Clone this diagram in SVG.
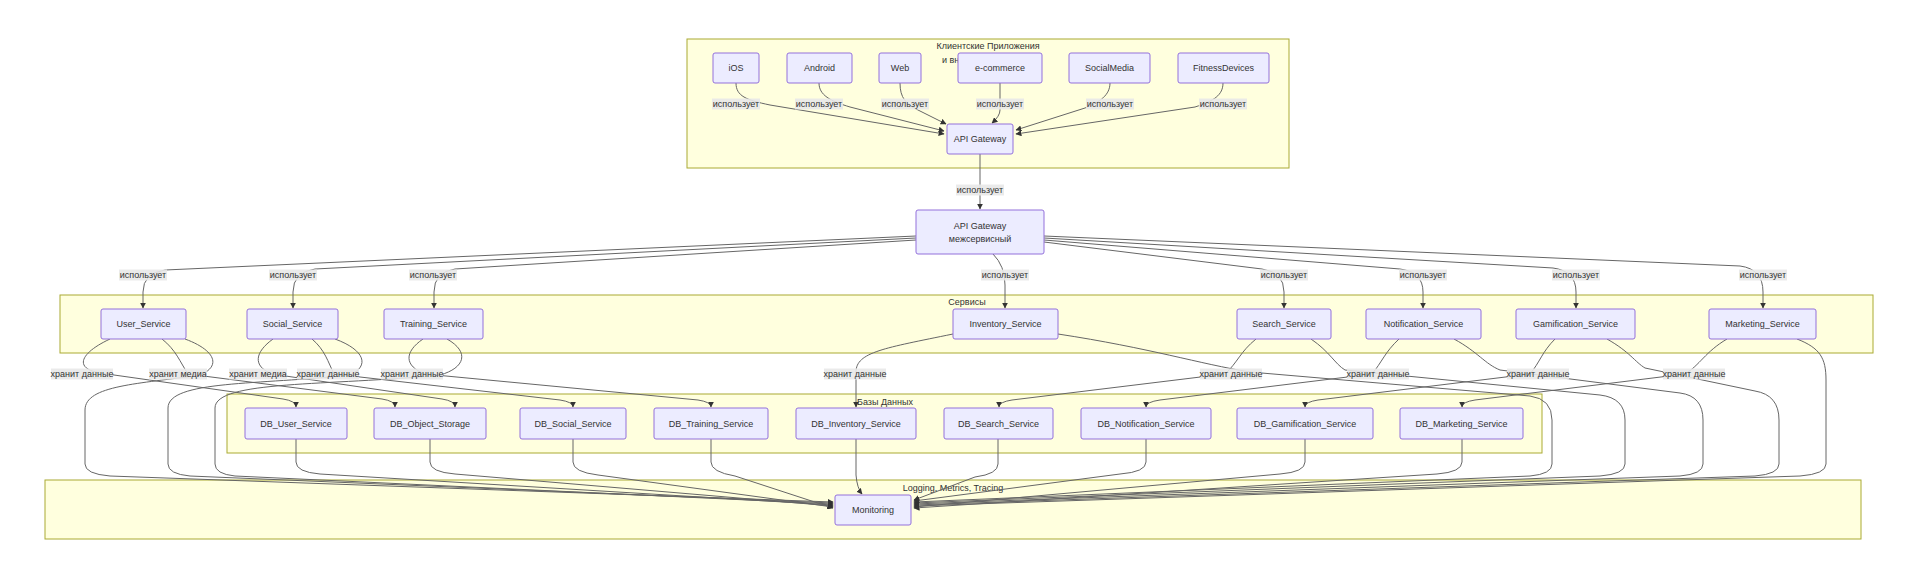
<svg xmlns="http://www.w3.org/2000/svg" width="1910" height="580" viewBox="0 0 1910 580">
<defs>
<marker id="arr" viewBox="0 0 10 10" refX="9" refY="5" markerUnits="userSpaceOnUse" markerWidth="6" markerHeight="6" orient="auto">
<path d="M0,0 L10,5 L0,10 z" fill="#333"/>
</marker>
<style>
.cl{fill:#ffffde;stroke:#aaaa33;stroke-width:1}
.nd rect{fill:#ECECFF;stroke:#9370DB;stroke-width:1}
text{font-family:"Liberation Sans",Arial,sans-serif;font-size:9px;fill:#333}
.nd text,.lb text{text-anchor:middle;dominant-baseline:central}
.ct{text-anchor:middle;dominant-baseline:central}
#edges path{fill:none;stroke:#666;stroke-width:1;marker-end:url(#arr)}
.lb rect{fill:#e8e8e8;opacity:0.9}
</style>
</defs>
<rect width="1910" height="580" fill="#ffffff"/>
<g id="clusters">
<g id="cl-clients"><rect class="cl" x="687" y="39" width="602" height="129"/><text class="ct" x="988" y="46">Клиентские Приложения</text><text x="942" y="63">и вн</text></g>
<g id="cl-services"><rect class="cl" x="60" y="295" width="1813" height="58"/><text class="ct" x="967" y="302">Сервисы</text></g>
<g id="cl-db"><rect class="cl" x="227" y="394" width="1315" height="59"/><text class="ct" x="885" y="402">Базы Данных</text></g>
<g id="cl-mon"><rect class="cl" x="45" y="480" width="1816" height="59"/><text class="ct" x="953" y="488">Logging, Metrics, Tracing</text></g>
</g>
<g id="edges">
<path d="M736,83 C736,96 746,100 770,105 L944,134"/>
<path d="M819,83 C819,95 830,101 850,107 L944,131"/>
<path d="M900,83 C900,98 906,104 918,110 L946,124"/>
<path d="M1000,83 L1000,110 Q1000,116 992,123"/>
<path d="M1110,83 C1110,95 1100,102 1085,108 L1016,130"/>
<path d="M1223,83 C1223,95 1214,101 1195,107 L1016,134"/>
<path d="M980,154 L980,209"/>
<path d="M916,236 L165,270 Q143,273 143,292 L143,308"/>
<path d="M916,238 L315,269 Q293,272 293,292 L293,308"/>
<path d="M916,240 L455,269 Q434,272 434,292 L434,308"/>
<path d="M993,254 Q1005,266 1005,285 L1005,308"/>
<path d="M1044,242 L1262,269 Q1284,272 1284,292 L1284,308"/>
<path d="M1044,240 L1400,269 Q1423,272 1423,292 L1423,308"/>
<path d="M1044,238 L1553,268 Q1576,271 1576,292 L1576,308"/>
<path d="M1044,236 L1740,266 Q1763,269 1763,292 L1763,308"/>
<path d="M110,339 C82,352 72,368 100,373 L283,399 Q296,401 296,407"/>
<path d="M162,339 C176,350 180,362 188,374 L382,399 Q395,401 395,407"/>
<path d="M273,339 C255,352 252,366 272,374 L442,399 Q455,401 455,407"/>
<path d="M312,339 C325,350 328,362 334,374 L560,400 Q573,402 573,407"/>
<path d="M423,339 C404,352 404,366 425,374 L698,400 Q711,402 711,407"/>
<path d="M953,334 C885,348 856,352 856,372 L856,407"/>
<path d="M1256,339 C1240,352 1238,362 1225,374 L1012,400 Q999,402 999,407"/>
<path d="M1399,339 C1385,352 1382,362 1372,374 L1160,400 Q1146,402 1146,407"/>
<path d="M1555,339 C1542,352 1540,362 1530,374 L1318,400 Q1305,402 1305,407"/>
<path d="M1727,339 C1705,352 1700,365 1685,374 L1475,400 Q1462,402 1462,407"/>
<path d="M185,339 C215,350 222,366 200,375 C140,384 85,385 85,410 L85,464 Q85,474 110,476 L833,502"/>
<path d="M335,339 C365,350 370,366 350,375 C260,385 168,380 168,408 L168,464 Q168,474 190,476 L833,503"/>
<path d="M447,339 C470,352 465,368 440,375 C330,386 215,380 215,408 L215,464 Q215,474 235,476 L833,504"/>
<path d="M1058,334 C1150,348 1200,364 1250,372 L1530,396 Q1552,399 1552,420 L1552,464 Q1552,474 1530,476 L914,502"/>
<path d="M1311,339 C1330,352 1335,364 1345,370 L1600,395 Q1625,398 1625,420 L1625,464 Q1625,474 1600,476 L914,503"/>
<path d="M1454,339 C1478,352 1485,364 1500,370 L1680,393 Q1703,396 1703,420 L1703,464 Q1703,474 1680,476 L914,504"/>
<path d="M1607,339 C1630,352 1635,362 1645,368 L1755,391 Q1779,395 1779,420 L1779,464 Q1779,474 1755,476 L914,505"/>
<path d="M1797,339 C1820,348 1826,358 1826,380 L1826,464 Q1826,474 1800,476 L914,506"/>
<path d="M296,439 L296,462 Q296,472 320,474 L833,505"/>
<path d="M430,439 L430,462 Q430,472 455,474 L833,506"/>
<path d="M573,439 L573,462 Q573,472 598,475 L833,507"/>
<path d="M711,439 L711,462 Q711,472 735,476 L833,508"/>
<path d="M856,439 L856,475 Q857,488 862,494"/>
<path d="M998,439 L998,464 Q998,474 975,477 L914,500"/>
<path d="M1146,439 L1146,462 Q1146,472 1120,474 L914,501"/>
<path d="M1305,439 L1305,462 Q1305,472 1280,474 L914,507"/>
<path d="M1462,439 L1462,462 Q1462,472 1437,474 L914,508"/>
</g>
<g id="edge-labels">
<g class="lb"><rect x="712" y="98.5" width="48" height="11"/><text x="736" y="104">использует</text></g>
<g class="lb"><rect x="795" y="98.5" width="48" height="11"/><text x="819" y="104">использует</text></g>
<g class="lb"><rect x="881" y="98.5" width="48" height="11"/><text x="905" y="104">использует</text></g>
<g class="lb"><rect x="976" y="98.5" width="48" height="11"/><text x="1000" y="104">использует</text></g>
<g class="lb"><rect x="1086" y="98.5" width="48" height="11"/><text x="1110" y="104">использует</text></g>
<g class="lb"><rect x="1199" y="98.5" width="48" height="11"/><text x="1223" y="104">использует</text></g>
<g class="lb"><rect x="956" y="184.5" width="48" height="11"/><text x="980" y="190">использует</text></g>
<g class="lb"><rect x="119" y="269.5" width="48" height="11"/><text x="143" y="275">использует</text></g>
<g class="lb"><rect x="269" y="269.5" width="48" height="11"/><text x="293" y="275">использует</text></g>
<g class="lb"><rect x="409" y="269.5" width="48" height="11"/><text x="433" y="275">использует</text></g>
<g class="lb"><rect x="981" y="269.5" width="48" height="11"/><text x="1005" y="275">использует</text></g>
<g class="lb"><rect x="1260" y="269.5" width="48" height="11"/><text x="1284" y="275">использует</text></g>
<g class="lb"><rect x="1399" y="269.5" width="48" height="11"/><text x="1423" y="275">использует</text></g>
<g class="lb"><rect x="1552" y="269.5" width="48" height="11"/><text x="1576" y="275">использует</text></g>
<g class="lb"><rect x="1739" y="269.5" width="48" height="11"/><text x="1763" y="275">использует</text></g>
<g class="lb"><rect x="51" y="368.5" width="62" height="11"/><text x="82" y="374">хранит данные</text></g>
<g class="lb"><rect x="149" y="368.5" width="58" height="11"/><text x="178" y="374">хранит медиа</text></g>
<g class="lb"><rect x="229" y="368.5" width="58" height="11"/><text x="258" y="374">хранит медиа</text></g>
<g class="lb"><rect x="297" y="368.5" width="62" height="11"/><text x="328" y="374">хранит данные</text></g>
<g class="lb"><rect x="381" y="368.5" width="62" height="11"/><text x="412" y="374">хранит данные</text></g>
<g class="lb"><rect x="824" y="368.5" width="62" height="11"/><text x="855" y="374">хранит данные</text></g>
<g class="lb"><rect x="1200" y="368.5" width="62" height="11"/><text x="1231" y="374">хранит данные</text></g>
<g class="lb"><rect x="1347" y="368.5" width="62" height="11"/><text x="1378" y="374">хранит данные</text></g>
<g class="lb"><rect x="1507" y="368.5" width="62" height="11"/><text x="1538" y="374">хранит данные</text></g>
<g class="lb"><rect x="1663" y="368.5" width="62" height="11"/><text x="1694" y="374">хранит данные</text></g>
</g>
<g id="nodes">
<g class="nd" id="n-ios"><rect x="713" y="53" width="46" height="30" rx="2"/><text x="736" y="68">iOS</text></g>
<g class="nd" id="n-android"><rect x="787" y="53" width="65" height="30" rx="2"/><text x="819.5" y="68">Android</text></g>
<g class="nd" id="n-web"><rect x="879" y="53" width="42" height="30" rx="2"/><text x="900" y="68">Web</text></g>
<g class="nd" id="n-ecom"><rect x="958" y="53" width="84" height="30" rx="2"/><text x="1000" y="68">e-commerce</text></g>
<g class="nd" id="n-social"><rect x="1069" y="53" width="81" height="30" rx="2"/><text x="1109.5" y="68">SocialMedia</text></g>
<g class="nd" id="n-fitness"><rect x="1178" y="53" width="91" height="30" rx="2"/><text x="1223.5" y="68">FitnessDevices</text></g>
<g class="nd" id="n-gw"><rect x="947" y="124" width="66" height="30" rx="2"/><text x="980" y="139">API Gateway</text></g>
<g class="nd" id="n-gw2"><rect x="916" y="210" width="128" height="44" rx="2"/><text x="980" y="226">API Gateway</text><text x="980" y="239">межсервисный</text></g>
<g class="nd" id="n-user"><rect x="101" y="309" width="85" height="30" rx="2"/><text x="143.5" y="324">User_Service</text></g>
<g class="nd" id="n-socials"><rect x="247" y="309" width="91" height="30" rx="2"/><text x="292.5" y="324">Social_Service</text></g>
<g class="nd" id="n-training"><rect x="384" y="309" width="99" height="30" rx="2"/><text x="433.5" y="324">Training_Service</text></g>
<g class="nd" id="n-inventory"><rect x="953" y="309" width="105" height="30" rx="2"/><text x="1005.5" y="324">Inventory_Service</text></g>
<g class="nd" id="n-search"><rect x="1237" y="309" width="94" height="30" rx="2"/><text x="1284" y="324">Search_Service</text></g>
<g class="nd" id="n-notif"><rect x="1366" y="309" width="115" height="30" rx="2"/><text x="1423.5" y="324">Notification_Service</text></g>
<g class="nd" id="n-gam"><rect x="1516" y="309" width="119" height="30" rx="2"/><text x="1575.5" y="324">Gamification_Service</text></g>
<g class="nd" id="n-mkt"><rect x="1709" y="309" width="107" height="30" rx="2"/><text x="1762.5" y="324">Marketing_Service</text></g>
<g class="nd" id="db-user"><rect x="245" y="408" width="102" height="31" rx="2"/><text x="296" y="423.5">DB_User_Service</text></g>
<g class="nd" id="db-obj"><rect x="374" y="408" width="112" height="31" rx="2"/><text x="430" y="423.5">DB_Object_Storage</text></g>
<g class="nd" id="db-social"><rect x="520" y="408" width="106" height="31" rx="2"/><text x="573" y="423.5">DB_Social_Service</text></g>
<g class="nd" id="db-training"><rect x="654" y="408" width="114" height="31" rx="2"/><text x="711" y="423.5">DB_Training_Service</text></g>
<g class="nd" id="db-inventory"><rect x="796" y="408" width="120" height="31" rx="2"/><text x="856" y="423.5">DB_Inventory_Service</text></g>
<g class="nd" id="db-search"><rect x="944" y="408" width="109" height="31" rx="2"/><text x="998.5" y="423.5">DB_Search_Service</text></g>
<g class="nd" id="db-notif"><rect x="1081" y="408" width="130" height="31" rx="2"/><text x="1146" y="423.5">DB_Notification_Service</text></g>
<g class="nd" id="db-gam"><rect x="1237" y="408" width="136" height="31" rx="2"/><text x="1305" y="423.5">DB_Gamification_Service</text></g>
<g class="nd" id="db-mkt"><rect x="1400" y="408" width="123" height="31" rx="2"/><text x="1461.5" y="423.5">DB_Marketing_Service</text></g>
<g class="nd" id="n-mon"><rect x="835" y="495" width="76" height="30" rx="2"/><text x="873" y="510">Monitoring</text></g>
</g>
</svg>
